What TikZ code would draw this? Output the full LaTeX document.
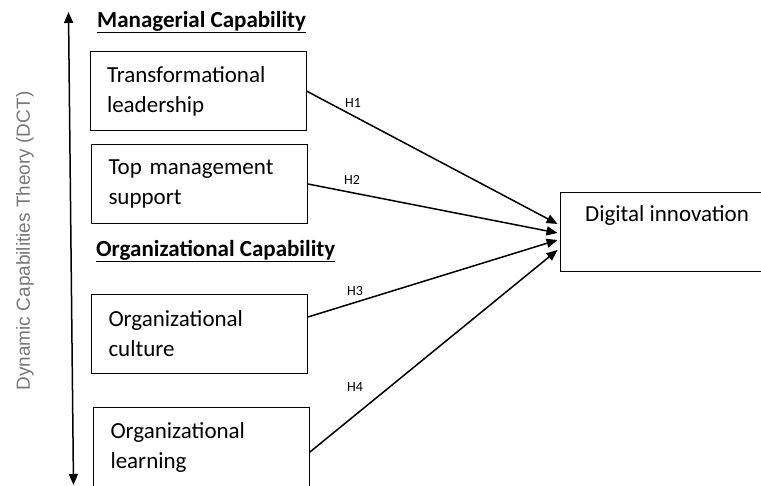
\documentclass[tikz,border=0pt]{standalone}
\usepackage{fontspec}
\setmainfont{Carlito}
\newfontfamily\axisfont{Liberation Sans}
\usetikzlibrary{arrows.meta}
\definecolor{axisgray}{RGB}{120,120,120}

\begin{document}
\begin{tikzpicture}[x=1pt,y=-1pt,
  box/.style={draw=black, line width=0.9pt, minimum width=216pt, minimum height=79pt,
    inner xsep=17pt, inner ysep=0pt, text width=182pt, align=left,
    font=\fontsize{23}{30}\selectfont},
  head/.style={anchor=base west, inner sep=0pt, font=\bfseries\fontsize{23}{28}\selectfont},
  uline/.style={line width=1.2pt},
  hyp/.style={font=\fontsize{14}{16}\selectfont, inner sep=0pt},
  link/.style={line width=1.5pt, -{Triangle[length=11pt,width=9pt]}},
]
\clip (0,0) rectangle (761,486);

% theory axis
\coordinate (axtop) at (68.5,12);
\coordinate (axbot) at (73.5,485);
\draw[line width=1.5pt, {Triangle[length=11pt,width=9pt]}-{Triangle[length=11pt,width=9pt]}] (axtop) -- (axbot);
\node[rotate=90, text=axisgray, font=\axisfont\fontsize{19}{22}\selectfont] (axlabel) at (25,241)
  {Dynamic Capabilities Theory (DCT)};

% group headings, underlined
\node[head] (mcap) at (97,28) {Managerial Capability};
\node[head] (ocap) at (96,257) {Organizational Capability};
\draw[uline] ([yshift=-4.5pt]mcap.base west) -- ([yshift=-4.5pt]mcap.base east);
\draw[uline] ([yshift=-4.5pt]ocap.base west) -- ([yshift=-4.5pt]ocap.base east);

% constructs
\node[box] (tl) at (198,91) {Transformational\\leadership};
\node[box] (tm) at (199.5,184) {Top management\\support};
\node[box] (oc) at (199.5,334) {Organizational\\culture};
\node[box] (ol) at (201.5,447) {Organizational\\learning};

\node[draw=black, line width=0.9pt, minimum width=216pt, minimum height=79pt] (di) at (668,231.5) {};
\node[anchor=base west, inner sep=0pt, font=\fontsize{23}{30}\selectfont] (ditext) at (585,222) {Digital innovation};

% hypothesised paths
\draw[link] (tl.east) -- ([xshift=-2pt,yshift=7.5pt]di.west);
\draw[link] (tm.east) -- ([xshift=-2pt,yshift=-1.5pt]di.west);
\draw[link] ([yshift=17pt]oc.east) -- ([xshift=-2pt,yshift=-8.5pt]di.west);
\draw[link] ([yshift=-5pt]ol.east) -- ([xshift=-2pt,yshift=-18.5pt]di.west);

\node[hyp] (h1) at (353,103) {H1};
\node[hyp] (h2) at (352,180) {H2};
\node[hyp] (h3) at (355,291) {H3};
\node[hyp] (h4) at (355,387) {H4};
\end{tikzpicture}
\end{document}
